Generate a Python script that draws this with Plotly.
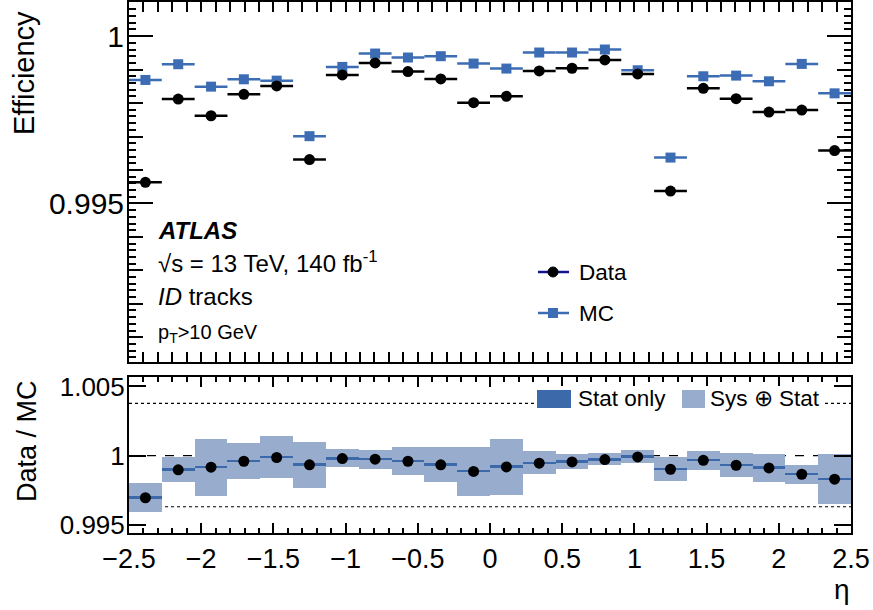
import plotly.graph_objects as go

# ---------------- data ----------------
eta_centers = [-2.38636, -2.15909, -1.93182, -1.70455, -1.47727, -1.25, -1.02273,
               -0.79545, -0.56818, -0.34091, -0.11364, 0.11364, 0.34091, 0.56818,
               0.79545, 1.02273, 1.25, 1.47727, 1.70455, 1.93182, 2.15909, 2.38636]
eta_halfwidth = [0.11364] * 22

eff_data = [0.99563, 0.99812, 0.99762, 0.99826, 0.99851, 0.99631, 0.99884, 0.99920,
            0.99894, 0.99872, 0.99801, 0.99820, 0.99896, 0.99904, 0.99929, 0.99887,
            0.99537, 0.99844, 0.99813, 0.99773, 0.99779, 0.99658]
eff_mc = [0.99869, 0.99916, 0.99849, 0.99871, 0.99867, 0.99701, 0.99908, 0.99948,
          0.99936, 0.99940, 0.99918, 0.99903, 0.99951, 0.99951, 0.99960, 0.99898,
          0.99637, 0.99880, 0.99882, 0.99865, 0.99917, 0.99829]
ratio = [0.99695, 0.99897, 0.99916, 0.99959, 0.99986, 0.99933, 0.99978, 0.99974,
         0.99959, 0.99933, 0.99885, 0.99918, 0.99945, 0.99954, 0.99971, 0.99990,
         0.99901, 0.99966, 0.99930, 0.99911, 0.99865, 0.99829]
tot_up = [0.99803, 0.99986, 1.00118, 1.00087, 1.00137, 1.00099, 1.00046, 1.00041,
          1.00058, 1.00060, 1.00058, 1.00118, 1.00029, 1.00007, 1.00017, 1.00038,
          0.99988, 1.00034, 1.00019, 1.00010, 0.99933, 1.00012]
tot_dn = [0.99589, 0.99810, 0.99709, 0.99827, 0.99837, 0.99762, 0.99916, 0.99904,
          0.99858, 0.99808, 0.99707, 0.99714, 0.99861, 0.99904, 0.99928, 0.99942,
          0.99812, 0.99897, 0.99841, 0.99810, 0.99793, 0.99647]
stat_err = [0.00009] * 22

ref_line = 1.0
dotted_lines = [1.00377, 0.99630]

# ---------------- style ----------------
FONT = "Liberation Sans, Arial, Helvetica, sans-serif"
C_MC = "#3c6db4"
C_STAT = "#3b69aa"
C_SYS = "#98accd"
C_NAVY = "#14148c"

bin_w = [2 * h for h in eta_halfwidth]

fig = go.Figure()

# --- bottom panel: bands ---
fig.add_trace(go.Bar(
    x=eta_centers, base=tot_dn, y=[u - d for u, d in zip(tot_up, tot_dn)],
    width=bin_w, marker=dict(color=C_SYS, line=dict(width=0)),
    xaxis="x2", yaxis="y2", showlegend=False, hoverinfo="skip"))
fig.add_trace(go.Bar(
    x=eta_centers, base=[r - s for r, s in zip(ratio, stat_err)],
    y=[2 * s for s in stat_err], width=bin_w,
    marker=dict(color=C_STAT, line=dict(width=0)),
    xaxis="x2", yaxis="y2", showlegend=False, hoverinfo="skip"))
fig.add_trace(go.Scatter(
    x=eta_centers, y=ratio, mode="markers",
    marker=dict(color="black", size=11, symbol="circle"),
    xaxis="x2", yaxis="y2", showlegend=False))

# --- top panel ---
fig.add_trace(go.Scatter(
    x=eta_centers, y=eff_mc, mode="markers",
    marker=dict(color=C_MC, size=10, symbol="square"),
    error_x=dict(type="data", array=eta_halfwidth, color=C_MC, thickness=2.5, width=0),
    xaxis="x", yaxis="y", showlegend=False))
fig.add_trace(go.Scatter(
    x=eta_centers, y=eff_data, mode="markers",
    marker=dict(color="black", size=11, symbol="circle"),
    error_x=dict(type="data", array=eta_halfwidth, color="black", thickness=2.5, width=0),
    xaxis="x", yaxis="y", showlegend=False))
# dummy trace for fine-tick overlay axis
fig.add_trace(go.Scatter(x=[None], y=[None], xaxis="x", yaxis="y3",
                         showlegend=False, hoverinfo="skip"))

TOP_DOM = [0.322, 1.0]
BOT_DOM = [0.0, 0.2932]
YR_TOP = [0.99026, 1.00102]
YR_BOT = [0.99440, 1.00566]

xcommon = dict(range=[-2.5, 2.5], tickmode="linear", tick0=-2.5, dtick=0.5,
               ticks="inside", ticklen=10, tickwidth=2, tickcolor="black",
               showline=True, linecolor="black", linewidth=2, mirror="allticks",
               showgrid=False, zeroline=False, automargin=False,
               minor=dict(dtick=0.1, tick0=-2.5, ticks="inside", ticklen=5,
                          tickwidth=1.5, tickcolor="black", showgrid=False))

fig.update_layout(
    width=873, height=610,
    margin=dict(l=129, r=22, t=2, b=77, autoexpand=False),
    paper_bgcolor="white", plot_bgcolor="white",
    font=dict(family=FONT, color="black"),
    barmode="overlay", bargap=0,
    showlegend=False,
    xaxis=dict(xcommon, domain=[0, 1], anchor="y", showticklabels=False),
    xaxis2=dict(xcommon, domain=[0, 1], anchor="y2", matches="x",
                showticklabels=True, tickfont=dict(size=27, family=FONT),
                ticklabelstandoff=1),
    yaxis=dict(domain=TOP_DOM, anchor="x", range=YR_TOP, tickmode="linear",
               tick0=0.995, dtick=0.005, ticks="inside", ticklen=24, tickwidth=2,
               tickcolor="black", showline=True, linecolor="black", linewidth=2,
               mirror="allticks", showgrid=False, zeroline=False, automargin=False,
               tickfont=dict(size=30, family=FONT), ticklabelstandoff=-3),
    yaxis3=dict(domain=TOP_DOM, anchor="x", overlaying="y", range=YR_TOP,
                tickmode="linear", tick0=0.99, dtick=0.001, ticks="inside",
                ticklen=14, tickwidth=2, tickcolor="black", showline=False,
                mirror="allticks", showgrid=False, zeroline=False, automargin=False,
                showticklabels=False,
                minor=dict(tick0=0.99, dtick=0.0002, ticks="inside", ticklen=7,
                           tickwidth=1.5, tickcolor="black", showgrid=False)),
    yaxis2=dict(domain=BOT_DOM, anchor="x2", range=YR_BOT, tickmode="array",
                tickvals=[0.995, 1.0, 1.005], ticktext=["0.995", "1", "1.005"],
                ticks="inside", ticklen=17, tickwidth=2, tickcolor="black",
                showline=True, linecolor="black", linewidth=2, mirror="allticks",
                showgrid=False, zeroline=False, automargin=False,
                tickfont=dict(size=26, family=FONT), ticklabelstandoff=-3),
)

# reference lines in ratio panel
fig.add_shape(type="line", xref="x2", yref="y2", x0=-2.5, x1=2.5, y0=ref_line, y1=ref_line,
              line=dict(color="black", width=1.3, dash="dash"), layer="below")
for v in dotted_lines:
    fig.add_shape(type="line", xref="x2", yref="y2", x0=-2.5, x1=2.5, y0=v, y1=v,
                  line=dict(color="black", width=1.2, dash="dot"), layer="below")


def px(x):
    return (x - 129) / 722.0


def py(y):
    return (533 - y) / 531.0


# white box behind the ratio legend
fig.add_shape(type="rect", xref="paper", yref="paper", x0=px(536), x1=px(824),
              y0=py(412), y1=py(386), fillcolor="white", line=dict(width=0), layer="above")

# ---- manual legends ----
# top legend
fig.add_shape(type="line", xref="paper", yref="paper", x0=px(538), x1=px(569),
              y0=py(272), y1=py(272), line=dict(color=C_NAVY, width=2.5))
fig.add_shape(type="circle", xref="paper", yref="paper", x0=px(548), x1=px(558),
              y0=py(277), y1=py(267), fillcolor="black", line=dict(color="black", width=1))
fig.add_shape(type="line", xref="paper", yref="paper", x0=px(538), x1=px(569),
              y0=py(313), y1=py(313), line=dict(color=C_MC, width=2.5))
fig.add_shape(type="rect", xref="paper", yref="paper", x0=px(548), x1=px(558),
              y0=py(318), y1=py(308), fillcolor=C_MC, line=dict(color=C_MC, width=0))
fig.add_annotation(text="Data", xref="paper", yref="paper", x=px(577), y=py(272),
                   xanchor="left", yanchor="middle", showarrow=False,
                   font=dict(size=22.5, family=FONT, color="black"))
fig.add_annotation(text="MC", xref="paper", yref="paper", x=px(577), y=py(313),
                   xanchor="left", yanchor="middle", showarrow=False,
                   font=dict(size=22.5, family=FONT, color="black"))
# bottom legend
fig.add_shape(type="rect", xref="paper", yref="paper", x0=px(537), x1=px(571),
              y0=py(408), y1=py(390), fillcolor=C_STAT, line=dict(width=0))
fig.add_shape(type="rect", xref="paper", yref="paper", x0=px(682), x1=px(705),
              y0=py(408), y1=py(390), fillcolor=C_SYS, line=dict(width=0))
fig.add_annotation(text="Stat only", xref="paper", yref="paper", x=px(576), y=py(398),
                   xanchor="left", yanchor="middle", showarrow=False,
                   font=dict(size=22.5, family=FONT, color="black"))
fig.add_annotation(text="Sys ⊕ Stat", xref="paper", yref="paper", x=px(708), y=py(398),
                   xanchor="left", yanchor="middle", showarrow=False,
                   font=dict(size=22.5, family=FONT, color="black"))

# ATLAS labels
fig.add_annotation(text="<b><i>ATLAS</i></b>", xref="paper", yref="paper",
                   x=px(156), y=py(230), xanchor="left", yanchor="middle",
                   showarrow=False, font=dict(size=24, family=FONT, color="black"))
fig.add_annotation(text="√s = 13 TeV, 140 fb<sup>-1</sup>", xref="paper", yref="paper",
                   x=px(156), y=py(262), xanchor="left", yanchor="middle",
                   showarrow=False, font=dict(size=24, family=FONT, color="black"))
fig.add_annotation(text="<i>ID</i> tracks", xref="paper", yref="paper",
                   x=px(156), y=py(296), xanchor="left", yanchor="middle",
                   showarrow=False, font=dict(size=24, family=FONT, color="black"))
fig.add_annotation(text="p<sub>T</sub>>10 GeV", xref="paper", yref="paper",
                   x=px(156), y=py(333), xanchor="left", yanchor="middle",
                   showarrow=False, font=dict(size=20, family=FONT, color="black"))

# axis titles
fig.add_annotation(text="Efficiency", xref="paper", yref="paper", x=px(24), y=py(9),
                   xanchor="center", yanchor="top", textangle=-90, showarrow=False,
                   font=dict(size=29, family=FONT, color="black"))
fig.add_annotation(text="Data / MC", xref="paper", yref="paper", x=px(27), y=py(441),
                   xanchor="center", yanchor="middle", textangle=-90, showarrow=False,
                   font=dict(size=27, family=FONT, color="black"))
fig.add_annotation(text="η", xref="paper", yref="paper", x=px(852), y=py(572),
                   xanchor="right", yanchor="top", showarrow=False,
                   font=dict(size=28, family=FONT, color="black"))

fig.write_html("out.html")
